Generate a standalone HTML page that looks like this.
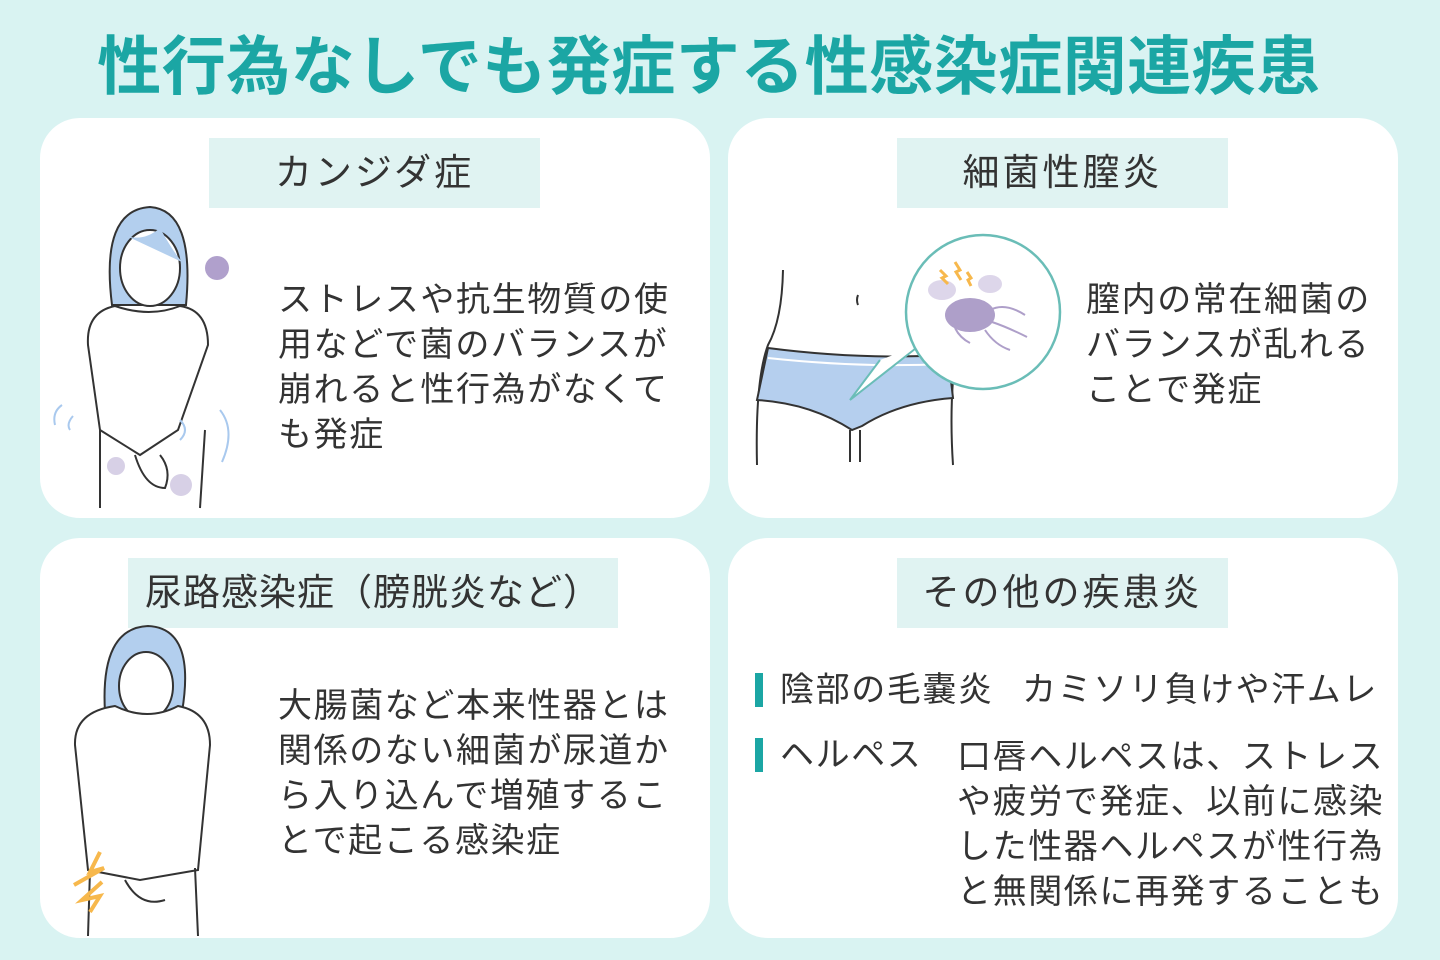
<!DOCTYPE html>
<html><head><meta charset="utf-8"><style>
*{margin:0;padding:0;box-sizing:border-box}
body{width:1440px;height:960px;background:#d9f3f2;position:relative;overflow:hidden;font-family:"Liberation Sans","Noto Sans CJK JP",sans-serif;color:#333}
.t{position:absolute;white-space:nowrap}
.title{left:0;width:1440px;text-align:center;top:16px;font-size:64px;font-weight:700;color:#1ba6a4;padding-right:22px;letter-spacing:0.5px}
.card{position:absolute;background:#fff;border-radius:40px;width:670px;height:400px}
.lbl{position:absolute;background:#e0f3f2;height:70px;font-size:37px;line-height:70px;text-align:center;color:#333;letter-spacing:3px}
.body{font-size:34px;line-height:45px;color:#333;letter-spacing:1.6px}
.bar{position:absolute;width:8px;height:34px;background:#1ba6a4}
</style></head><body>
<div class="t title">性行為なしでも発症する性感染症関連疾患</div>
<div class="card" style="left:40px;top:118px"></div>
<div class="card" style="left:728px;top:118px"></div>
<div class="card" style="left:40px;top:538px"></div>
<div class="card" style="left:728px;top:538px"></div>

<div class="lbl" style="left:209px;top:138px;width:331px">カンジダ症</div>
<div class="lbl" style="left:897px;top:138px;width:331px">細菌性膣炎</div>
<div class="lbl" style="left:128px;top:558px;width:490px;letter-spacing:1px">尿路感染症（膀胱炎など）</div>
<div class="lbl" style="left:897px;top:558px;width:331px">その他の疾患炎</div>

<div class="t body" style="left:278px;top:278px">ストレスや抗生物質の使<br>用などで菌のバランスが<br>崩れると性行為がなくて<br>も発症</div>
<div class="t body" style="left:1086px;top:278px">膣内の常在細菌の<br>バランスが乱れる<br>ことで発症</div>
<div class="t body" style="left:278px;top:684px">大腸菌など本来性器とは<br>関係のない細菌が尿道か<br>ら入り込んで増殖するこ<br>とで起こる感染症</div>

<div class="bar" style="left:755px;top:673px"></div>
<div class="t body" style="left:780px;top:668px">陰部の毛嚢炎</div>
<div class="t body" style="left:1022px;top:668px">カミソリ負けや汗ムレ</div>
<div class="bar" style="left:755px;top:738px"></div>
<div class="t body" style="left:780px;top:733px">ヘルペス</div>
<div class="t body" style="left:957px;top:735px">口唇ヘルペスは、ストレス<br>や疲労で発症、以前に感染<br>した性器ヘルペスが性行為<br>と無関係に再発することも</div>

<svg width="1440" height="960" style="position:absolute;left:0;top:0" fill="none" stroke="#333" stroke-width="2">
<path d="M112 305 Q100 210 150 207 Q195 210 186 305 Z" fill="#b3cfee"/>
<ellipse cx="150" cy="268" rx="30" ry="38" fill="#fff"/>
<path d="M118 232 Q140 245 160 228 Q172 250 182 262" fill="#b3cfee" stroke="none"/>
<path d="M115 306 Q86 312 88 345 L100 430 L140 455 L178 430 L208 345 Q208 310 180 306 Q150 318 115 306Z" fill="#fff"/>
<path d="M100 430 L100 508 M205 430 L200 508"/>
<path d="M135 455 Q145 488 165 488 Q172 470 160 455"/>
<circle cx="217" cy="268" r="12" fill="#b0a0cc" stroke="none"/>
<circle cx="116" cy="466" r="9" fill="#d7d0e6" stroke="none"/>
<circle cx="181" cy="485" r="11" fill="#d7d0e6" stroke="none"/>
<path d="M62 405 Q52 412 55 425 M73 416 Q66 424 70 430 M180 420 Q190 430 180 440 M220 410 Q236 430 222 462" stroke="#a9c9ee"/>
<path d="M105 712 Q100 628 148 626 Q196 628 182 712 Z" fill="#b3cfee"/>
<ellipse cx="146" cy="686" rx="27" ry="34" fill="#fff"/>
<path d="M115 706 Q74 712 75 745 L88 870 L140 880 L198 870 L210 745 Q210 712 178 706 Q148 722 115 706Z" fill="#fff"/>
<path d="M90 870 L88 936 M195 868 L198 936"/>
<path d="M125 880 Q140 908 165 900"/>
<path d="M100 852 L90 872 L104 868 L74 885 M102 882 L82 900 L100 896 L90 912" stroke="#f7b84c" stroke-width="4"/>
<path d="M783 270 Q782 320 768 345 Q755 380 757 465 M953 380 Q950 420 953 465"/>
<path d="M768 348 Q860 360 948 355 L953 398 Q900 402 862 426 L852 430 Q810 403 757 400 Z" fill="#b5cfee"/>
<path d="M768 358 Q860 368 945 364" stroke="#fff"/>
<path d="M850 430 L850 462 M860 430 L860 462"/>
<path d="M858 295 q-2 5 0 10"/>
<path d="M880 360 L850 400 L920 345" fill="#fff" stroke="#6abdb7"/>
<circle cx="983" cy="312" r="77" fill="#fff" stroke="#6abdb7" stroke-width="2.5"/>
<ellipse cx="970" cy="315" rx="25" ry="17" fill="#ae9fc9" stroke="none"/>
<ellipse cx="942" cy="290" rx="14" ry="10" fill="#ddd6ea" stroke="none"/>
<ellipse cx="990" cy="284" rx="12" ry="9" fill="#ddd6ea" stroke="none"/>
<path d="M990 310 q15 -8 35 5 M992 322 q15 5 35 15 M985 330 q10 15 25 20 M955 328 q5 10 15 15" stroke="#ae9fc9"/>
<path d="M940 270 l6 6 -4 2 6 6 M955 262 l5 8 -4 2 5 8 M967 272 l4 6 -3 2 3 6" stroke="#f7b84c" stroke-width="3"/>
</svg>
</body></html>
